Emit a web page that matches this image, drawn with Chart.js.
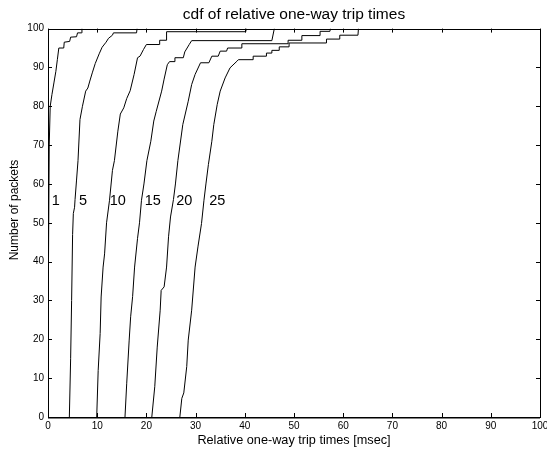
<!DOCTYPE html>
<html>
<head>
<meta charset="utf-8">
<script src="https://cdn.jsdelivr.net/npm/chart.js@4.4.1/dist/chart.umd.min.js"></script>
<style>
  html, body { margin: 0; padding: 0; background: #fff; }
</style>
</head>
<body>
<canvas id="myChart" width="547" height="454"></canvas>
<script>
// cdf curves: x = trip time [msec], y = packets [%]
const curveNames = ["1", "5", "10", "15", "20", "25"];

const x1 = [0.05, 0.1, 0.25, 0.45, 0.8, 1.2, 1.6, 1.9, 2.2, 3.2, 3.3, 4.4, 4.6, 5.8, 6.0, 6.8, 6.9];
const y1 = [0, 40, 70, 80, 83, 86, 89, 92, 95, 95, 96.5, 96.7, 97.8, 97.9, 98.9, 98.9, 100];

const x5 = [4.34, 4.6, 4.8, 5.0, 5.15, 5.4, 5.5, 5.8, 6.1, 6.5, 7.0, 7.66, 8.1, 8.5, 9.0, 9.6, 10.4, 11.0, 11.8, 12.3, 13.1, 13.3, 18.0, 18.1];
const y5 = [0, 15, 30, 47, 52.4, 54, 56, 61, 66, 76.6, 80, 83.9, 84.7, 86.5, 88.6, 91, 93.5, 95.2, 96.5, 97.5, 98.3, 98.9, 98.9, 100];

const x10 = [9.9, 10.2, 10.6, 10.8, 11.2, 11.5, 11.9, 12.5, 13.1, 13.5, 14.2, 14.7, 15.4, 16.0, 16.7, 17.5, 18.2, 18.7, 19.4, 20.0, 22.6, 22.7, 24.0, 24.1, 40.2, 40.3];
const y10 = [0, 12, 21.5, 30.9, 38.6, 42, 50, 55.8, 63.5, 66, 73.6, 78, 79.6, 82, 84, 88.2, 92.5, 92.9, 94.6, 95.9, 95.9, 97, 97, 99.2, 99.2, 100];

const x15 = [15.65, 16.0, 16.5, 16.8, 17.2, 17.6, 18.2, 18.6, 19.0, 19.5, 20.1, 20.9, 21.5, 22.0, 23.1, 23.6, 24.25, 24.7, 25.8, 25.8, 27.5, 27.8, 28.7, 29.2, 45.5, 46.0];
const y15 = [0, 8.7, 19.8, 25.8, 31, 38.6, 46, 50, 55.8, 60, 66, 71, 76.2, 78.7, 83.9, 87, 90.7, 91.5, 91.5, 92.5, 92.5, 94, 95.9, 96.9, 96.9, 100];

const x20 = [21.1, 21.7, 22.2, 22.8, 23.0, 23.6, 24.1, 24.5, 24.9, 25.5, 25.9, 26.4, 27.4, 28.5, 29.2, 29.9, 31.0, 32.7, 33.3, 34.6, 35.0, 36.3, 36.5, 39.4, 39.4, 48.8, 48.8, 51.6, 51.6, 55.3, 55.3, 57.3, 57.4];
const y20 = [0, 7.8, 18, 27.5, 32.6, 33.5, 38.6, 46.4, 51.5, 56, 60, 66, 75.3, 81.3, 85.6, 88.2, 91.2, 91.2, 92.9, 92.9, 94.2, 94.2, 95, 95, 96.1, 96.1, 97, 97, 98.2, 98.2, 99.3, 99.3, 100];

const x25 = [26.8, 27.2, 27.6, 28.2, 28.5, 29.2, 29.9, 30.5, 31.2, 31.7, 32.1, 32.6, 33.3, 33.7, 34.4, 35.0, 36.0, 37.0, 38.4, 38.7, 41.7, 41.7, 44.4, 44.4, 45.5, 45.5, 47.0, 47.0, 49.0, 49.0, 56.6, 56.6, 59.3, 59.3, 63.0, 63.1];
const y25 = [0, 4.8, 6.2, 13, 19.8, 27.5, 38.6, 44, 49.8, 55.8, 60, 65, 71, 75.3, 80.5, 83.9, 87.3, 89.9, 91.6, 92, 92, 92.9, 92.9, 93.7, 93.7, 94.4, 94.4, 95.3, 95.3, 96.3, 96.3, 97.3, 97.3, 98.3, 98.3, 100];

const curvesX = [x1, x5, x10, x15, x20, x25];
const curvesY = [y1, y5, y10, y15, y20, y25];

// where the curve names sit (data units)
const labelX = [1.6, 7.1, 14.2, 21.3, 27.7, 34.4];
const labelY = 55.5;

const xTicks = [0, 10, 20, 30, 40, 50, 60, 70, 80, 90, 100];
const yTicks = [0, 10, 20, 30, 40, 50, 60, 70, 80, 90, 100];

const FONT = "Arial, 'Liberation Sans', Helvetica, sans-serif";

const datasets = curvesX.map((xs, i) => ({
    label: curveNames[i],
    data: xs.map((v, j) => ({ x: v, y: curvesY[i][j] })),
    borderColor: '#000',
    borderWidth: 1,
    pointRadius: 0,
    tension: 0,
    fill: false
}));

// box round the plot, ticks pointing inwards, curve names, y title
const matlabAxes = {
    id: 'matlabAxes',
    afterDatasetsDraw(chart) {
        const { ctx, scales: { x, y } } = chart;
        ctx.save();
        ctx.fillStyle = '#000';
        ctx.font = '14.5px ' + FONT;
        ctx.textAlign = 'center';
        ctx.textBaseline = 'middle';
        curveNames.forEach((name, i) => {
            ctx.fillText(name, x.getPixelForValue(labelX[i]), y.getPixelForValue(labelY));
        });
        ctx.restore();
    },
    afterDraw(chart) {
        const { ctx, chartArea: a, scales: { x, y } } = chart;
        const len = 4;
        ctx.save();
        ctx.strokeStyle = '#000';
        ctx.lineWidth = 1;
        ctx.beginPath();
        xTicks.forEach(v => {
            const px = Math.round(x.getPixelForValue(v)) + 0.5;
            ctx.moveTo(px, a.bottom); ctx.lineTo(px, a.bottom - len);
            ctx.moveTo(px, a.top); ctx.lineTo(px, a.top + len);
        });
        yTicks.forEach(v => {
            const py = Math.round(y.getPixelForValue(v)) + 0.5;
            ctx.moveTo(a.left, py); ctx.lineTo(a.left + len, py);
            ctx.moveTo(a.right, py); ctx.lineTo(a.right - len, py);
        });
        ctx.stroke();
        ctx.strokeRect(Math.round(a.left) + 0.5, Math.round(a.top) + 0.5,
            Math.round(a.right - a.left), Math.round(a.bottom - a.top));
        // bottom axis looks a bit heavier in the original
        ctx.beginPath();
        ctx.moveTo(a.left, Math.round(a.bottom) + 1);
        ctx.lineTo(a.right, Math.round(a.bottom) + 1);
        ctx.stroke();

        // y axis title
        ctx.fillStyle = '#000';
        ctx.font = '12px ' + FONT;
        ctx.textAlign = 'center';
        ctx.textBaseline = 'middle';
        ctx.translate(15, 210);
        ctx.rotate(-Math.PI / 2);
        ctx.fillText('Number of packets', 0, 0);
        ctx.restore();
    }
};

new Chart(document.getElementById('myChart'), {
    type: 'line',
    data: { datasets: datasets },
    options: {
        responsive: false,
        animation: false,
        devicePixelRatio: 1,
        layout: { padding: { left: 0, right: 7, top: 0, bottom: 0 } },
        plugins: {
            legend: { display: false },
            tooltip: { enabled: false },
            title: {
                display: true,
                fullSize: false,
                text: 'cdf of relative one-way trip times',
                color: '#000',
                font: { family: FONT, size: 15.5, weight: 'normal' },
                padding: { top: 5, bottom: 5 }
            }
        },
        scales: {
            x: {
                type: 'linear',
                min: 0,
                max: 100,
                afterBuildTicks: s => { s.ticks = xTicks.map(v => ({ value: v })); },
                afterFit: s => { s.height = 37; s.paddingLeft = 0; s.paddingRight = 0; },
                ticks: {
                    color: '#000',
                    font: { family: FONT, size: 10 },
                    padding: 3,
                    maxRotation: 0,
                    autoSkip: false
                },
                grid: { display: false, drawTicks: false },
                border: { display: false },
                title: {
                    display: true,
                    text: 'Relative one-way trip times [msec]',
                    color: '#000',
                    font: { family: FONT, size: 12.7 },
                    padding: { top: 0, bottom: 5.5 }
                }
            },
            y: {
                type: 'linear',
                min: 0,
                max: 100,
                afterBuildTicks: s => { s.ticks = yTicks.map(v => ({ value: v })); },
                afterFit: s => { s.width = 48; s.paddingTop = 0; s.paddingBottom = 0; },
                ticks: {
                    color: '#000',
                    font: { family: FONT, size: 10 },
                    padding: 4,
                    autoSkip: false
                },
                grid: { display: false, drawTicks: false },
                border: { display: false }
            }
        }
    },
    plugins: [matlabAxes]
});
</script>
</body>
</html>
